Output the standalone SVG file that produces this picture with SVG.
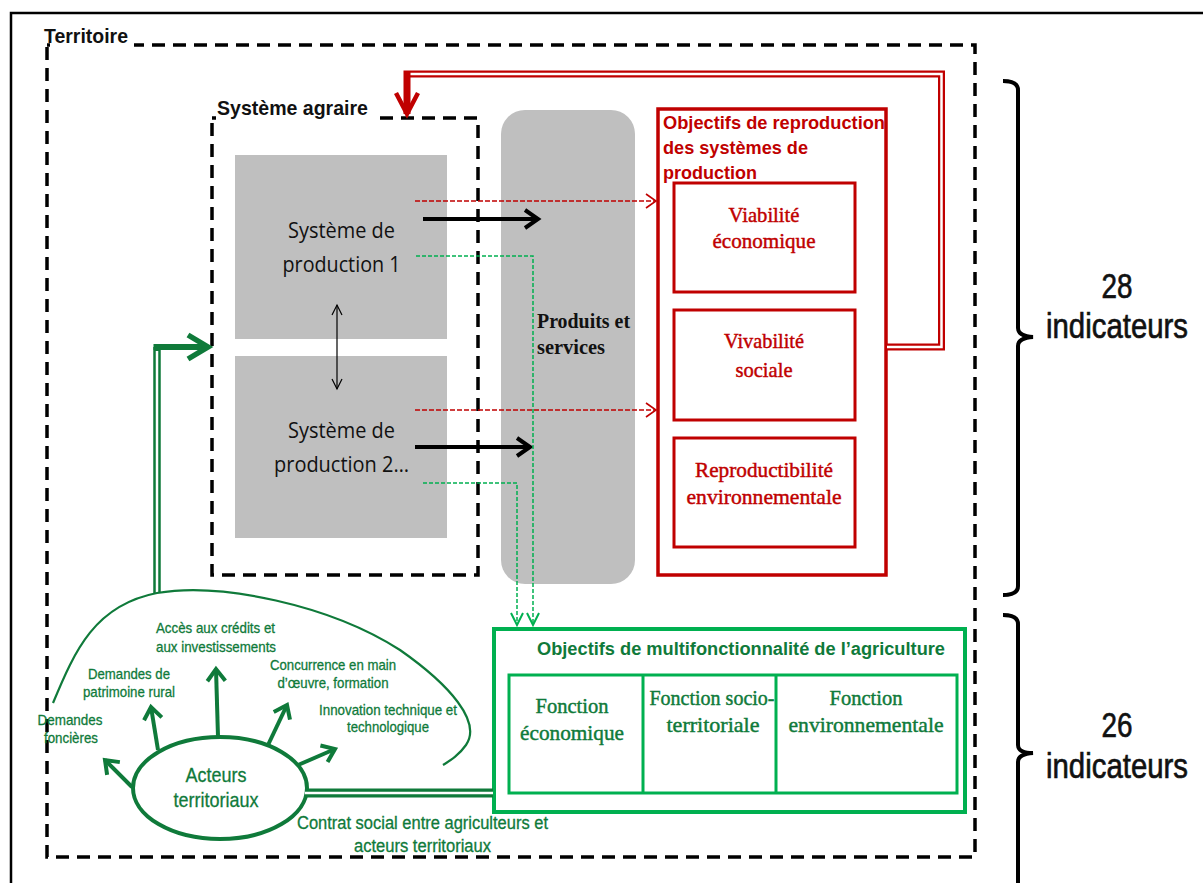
<svg xmlns="http://www.w3.org/2000/svg" width="1203" height="883" viewBox="0 0 1203 883">
<style>
.sans{font-family:"Liberation Sans",Arial,sans-serif}
.serif{font-family:"Liberation Serif","Times New Roman",serif}
.cal{font-family:"Open Sans","Noto Sans",sans-serif}
.b{font-weight:bold}
.dash{fill:none;stroke:#000;stroke-width:3.5;stroke-dasharray:13 8}
.grey{fill:#bfbfbf}
.rbox{fill:#fff;stroke:#c00000}
.gbox{fill:#fff;stroke:#00b050}
.rt{fill:#c00000}
.gt{fill:#0f7a3a}
.kt{fill:#111}
.mid{text-anchor:middle}
.thr{stroke:#c00000;stroke-width:0.45}
.thg{stroke:#0f7a3a;stroke-width:0.45}
.thg2{stroke:#0f7a3a;stroke-width:0.3}
.thk{stroke:#111;stroke-width:0.6}
</style>
<defs>
<marker id="mB" markerUnits="userSpaceOnUse" markerWidth="30" markerHeight="30" refX="13" refY="9" orient="auto" overflow="visible"><path d="M0,0 L13,9 L0,18" fill="none" stroke="#000" stroke-width="4"/></marker>
<marker id="mR" markerUnits="userSpaceOnUse" markerWidth="30" markerHeight="30" refX="10" refY="7" orient="auto" overflow="visible"><path d="M0,0 L10,7 L0,14" fill="none" stroke="#c00000" stroke-width="1.6"/></marker>
<marker id="mGd" markerUnits="userSpaceOnUse" markerWidth="30" markerHeight="30" refX="12" refY="6" orient="auto" overflow="visible"><path d="M0,0 L12,6 L0,12" fill="none" stroke="#00b050" stroke-width="2"/></marker>
<marker id="mT" markerUnits="userSpaceOnUse" markerWidth="30" markerHeight="30" refX="10" refY="5" orient="auto-start-reverse" overflow="visible"><path d="M0,0 L10,5 L0,10" fill="none" stroke="#000" stroke-width="1.2"/></marker>
<marker id="mG" markerUnits="userSpaceOnUse" markerWidth="30" markerHeight="30" refX="12" refY="9" orient="auto" overflow="visible"><path d="M0,0 L12,9 L0,18" fill="none" stroke="#0f7a3a" stroke-width="4"/></marker>
<marker id="mGB" markerUnits="userSpaceOnUse" markerWidth="40" markerHeight="40" refX="20" refY="12" orient="auto" overflow="visible"><path d="M0,0 L20,12 L0,24" fill="none" stroke="#0f7a3a" stroke-width="5.5"/></marker>
<marker id="mRB" markerUnits="userSpaceOnUse" markerWidth="40" markerHeight="40" refX="21" refY="11" orient="auto" overflow="visible"><path d="M0,0 L21,11 L0,22" fill="none" stroke="#c00000" stroke-width="4.5"/></marker>
</defs>

<rect width="1203" height="883" fill="#fff"/>
<path d="M11,883 V13 H1203" fill="none" stroke="#000" stroke-width="2.5"/>

<g id="territoire">
<rect class="dash" x="47" y="45" width="928" height="812"/>
<rect x="50" y="24" width="84" height="23" fill="#fff"/>
<text class="sans b kt" x="44" y="43" font-size="21" textLength="84" lengthAdjust="spacingAndGlyphs">Territoire</text>
</g>

<g id="systeme-agraire">
<rect class="dash" x="212" y="118" width="266" height="457"/>
<rect x="216" y="96" width="158" height="24" fill="#fff"/>
<text class="sans b kt" x="217" y="115" font-size="21" textLength="151" lengthAdjust="spacingAndGlyphs">Système agraire</text>
</g>

<g id="sp1">
<rect class="grey" x="235" y="155" width="212" height="184"/>
<text class="cal kt mid" x="341.5" y="238" font-size="22" textLength="107" lengthAdjust="spacingAndGlyphs">Système de</text>
<text class="cal kt mid" x="341.5" y="272" font-size="22" textLength="118" lengthAdjust="spacingAndGlyphs">production 1</text>
</g>

<g id="sp2">
<rect class="grey" x="235" y="356" width="212" height="182"/>
<text class="cal kt mid" x="341.5" y="438" font-size="22" textLength="107" lengthAdjust="spacingAndGlyphs">Système de</text>
<text class="cal kt mid" x="341.5" y="472" font-size="22" textLength="135" lengthAdjust="spacingAndGlyphs">production 2…</text>
</g>

<g id="produits">
<rect class="grey" x="501" y="110" width="134" height="474" rx="24"/>
<text class="serif b kt" x="537" y="328" font-size="20" textLength="93" lengthAdjust="spacingAndGlyphs">Produits et</text>
<text class="serif b kt" x="537" y="354" font-size="20" textLength="68" lengthAdjust="spacingAndGlyphs">services</text>
</g>

<g id="objectifs-reproduction">
<rect class="rbox" x="658" y="109" width="228" height="466" stroke-width="3.5"/>
<text class="sans b rt" x="663" y="129" font-size="19" textLength="222" lengthAdjust="spacingAndGlyphs">Objectifs de reproduction</text>
<text class="sans b rt" x="663" y="154" font-size="19" textLength="145" lengthAdjust="spacingAndGlyphs">des systèmes de</text>
<text class="sans b rt" x="663" y="179" font-size="19" textLength="94" lengthAdjust="spacingAndGlyphs">production</text>
</g>

<g id="viabilite">
<rect class="rbox" x="674" y="183" width="181" height="109" stroke-width="3"/>
<text class="serif rt thr mid" x="764" y="222" font-size="22" textLength="71" lengthAdjust="spacingAndGlyphs">Viabilité</text>
<text class="serif rt thr mid" x="764" y="248" font-size="22" textLength="103" lengthAdjust="spacingAndGlyphs">économique</text>
</g>

<g id="vivabilite">
<rect class="rbox" x="674" y="310" width="181" height="110" stroke-width="3"/>
<text class="serif rt thr mid" x="764" y="348" font-size="22" textLength="80" lengthAdjust="spacingAndGlyphs">Vivabilité</text>
<text class="serif rt thr mid" x="764" y="377" font-size="22" textLength="57" lengthAdjust="spacingAndGlyphs">sociale</text>
</g>

<g id="reproductibilite">
<rect class="rbox" x="674" y="438" width="181" height="109" stroke-width="3"/>
<text class="serif rt thr mid" x="764" y="477" font-size="22" textLength="138" lengthAdjust="spacingAndGlyphs">Reproductibilité</text>
<text class="serif rt thr mid" x="764" y="504" font-size="22" textLength="155" lengthAdjust="spacingAndGlyphs">environnementale</text>
</g>

<g id="objectifs-multifonctionnalite">
<rect class="gbox" x="494" y="629" width="471" height="183" stroke-width="4"/>
<text class="sans b gt" x="537" y="655" font-size="18" textLength="408" lengthAdjust="spacingAndGlyphs">Objectifs de multifonctionnalité de l’agriculture</text>
<rect class="gbox" x="509" y="675" width="448" height="118" stroke-width="3"/>
<path d="M643,675 V793 M776,675 V793" stroke="#00b050" stroke-width="3"/>
</g>

<g id="fonction-economique">
<text class="serif gt thg mid" x="572" y="713" font-size="22" textLength="73" lengthAdjust="spacingAndGlyphs">Fonction</text>
<text class="serif gt thg mid" x="572" y="740" font-size="22" textLength="104" lengthAdjust="spacingAndGlyphs">économique</text>
</g>
<g id="fonction-socio-territoriale">
<text class="serif gt thg mid" x="712" y="705" font-size="22" textLength="125" lengthAdjust="spacingAndGlyphs">Fonction socio-</text>
<text class="serif gt thg mid" x="713" y="732" font-size="22" textLength="93" lengthAdjust="spacingAndGlyphs">territoriale</text>
</g>
<g id="fonction-environnementale">
<text class="serif gt thg mid" x="866" y="705" font-size="22" textLength="73" lengthAdjust="spacingAndGlyphs">Fonction</text>
<text class="serif gt thg mid" x="866" y="732" font-size="22" textLength="155" lengthAdjust="spacingAndGlyphs">environnementale</text>
</g>

<g id="acteurs-territoriaux">
<ellipse cx="220" cy="788" rx="87" ry="51" fill="#fff" stroke="#0f7a3a" stroke-width="4"/>
<text class="sans gt thg2 mid" x="216" y="782" font-size="21" textLength="61" lengthAdjust="spacingAndGlyphs">Acteurs</text>
<text class="sans gt thg2 mid" x="216" y="807" font-size="21" textLength="85" lengthAdjust="spacingAndGlyphs">territoriaux</text>
</g>

<g id="demandes-foncieres">
<text class="sans gt thg2 mid" x="70" y="725" font-size="15" textLength="65" lengthAdjust="spacingAndGlyphs">Demandes</text>
<text class="sans gt thg2 mid" x="71" y="743" font-size="15" textLength="54" lengthAdjust="spacingAndGlyphs">foncières</text>
</g>
<g id="demandes-patrimoine">
<text class="sans gt thg2 mid" x="129" y="679" font-size="15" textLength="82" lengthAdjust="spacingAndGlyphs">Demandes de</text>
<text class="sans gt thg2 mid" x="129" y="697" font-size="15" textLength="92" lengthAdjust="spacingAndGlyphs">patrimoine rural</text>
</g>
<g id="acces-credits">
<text class="sans gt thg2 mid" x="215.5" y="633" font-size="15" textLength="119" lengthAdjust="spacingAndGlyphs">Accès aux crédits et</text>
<text class="sans gt thg2 mid" x="216" y="652" font-size="15" textLength="120" lengthAdjust="spacingAndGlyphs">aux investissements</text>
</g>
<g id="concurrence">
<text class="sans gt thg2 mid" x="333" y="670" font-size="15" textLength="126" lengthAdjust="spacingAndGlyphs">Concurrence en main</text>
<text class="sans gt thg2 mid" x="333" y="688" font-size="15" textLength="111" lengthAdjust="spacingAndGlyphs">d’œuvre, formation</text>
</g>
<g id="innovation">
<text class="sans gt thg2 mid" x="388" y="715" font-size="15" textLength="138" lengthAdjust="spacingAndGlyphs">Innovation technique et</text>
<text class="sans gt thg2 mid" x="388" y="732" font-size="15" textLength="82" lengthAdjust="spacingAndGlyphs">technologique</text>
</g>
<g id="contrat-social">
<text class="sans gt thg2 mid" x="422.5" y="829" font-size="17.5" textLength="251" lengthAdjust="spacingAndGlyphs">Contrat social entre agriculteurs et</text>
<text class="sans gt thg2 mid" x="422.5" y="852" font-size="17.5" textLength="137" lengthAdjust="spacingAndGlyphs">acteurs territoriaux</text>
</g>

<g id="indicateurs-28">
<path d="M1003,81 Q1018,81 1018,90 V328 Q1018,336 1033,337 Q1018,338 1018,346 V586 Q1018,595 1003,595" fill="none" stroke="#000" stroke-width="4"/>
<text class="sans kt thk mid" transform="translate(1117,298) scale(1,1.13)" font-size="31" textLength="31" lengthAdjust="spacingAndGlyphs">28</text>
<text class="sans kt thk mid" transform="translate(1117,338) scale(1,1.13)" font-size="31" textLength="142" lengthAdjust="spacingAndGlyphs">indicateurs</text>
</g>
<g id="indicateurs-26">
<path d="M1003,615 Q1018,615 1018,624 V745 Q1018,753 1033,753 Q1018,754 1018,762 V883" fill="none" stroke="#000" stroke-width="4"/>
<text class="sans kt thk mid" transform="translate(1117,737) scale(1,1.13)" font-size="31" textLength="31" lengthAdjust="spacingAndGlyphs">26</text>
<text class="sans kt thk mid" transform="translate(1117,778) scale(1,1.13)" font-size="31" textLength="142" lengthAdjust="spacingAndGlyphs">indicateurs</text>
</g>

<g id="connectors" fill="none">
<path d="M415,201 H656" stroke="#c00000" stroke-width="1.5" stroke-dasharray="5 2" marker-end="url(#mR)"/>
<path d="M415,410 H656" stroke="#c00000" stroke-width="1.5" stroke-dasharray="5 2" marker-end="url(#mR)"/>
<path d="M423,219 H538" stroke="#000" stroke-width="4" marker-end="url(#mB)"/>
<path d="M415,447 H530" stroke="#000" stroke-width="4" marker-end="url(#mB)"/>
<path d="M416,256 H533 V625" stroke="#00b050" stroke-width="1.5" stroke-dasharray="4 2" marker-end="url(#mGd)"/>
<path d="M423,483 H517 V625" stroke="#00b050" stroke-width="1.5" stroke-dasharray="4 2" marker-end="url(#mGd)"/>
<path d="M337,305 V389" stroke="#000" stroke-width="1.2" marker-start="url(#mT)" marker-end="url(#mT)"/>
<path d="M887,347 H941.5 V74 H407 V114" stroke="#c00000" stroke-width="7" stroke-linejoin="miter" marker-end="url(#mRB)"/>
<path d="M887,347 H941.5 V74 H410.5" stroke="#fff" stroke-width="2.5"/>
<path d="M157,593 V347" stroke="#0f7a3a" stroke-width="7.5"/>
<path d="M157,593 V351" stroke="#fff" stroke-width="2.5"/>
<path d="M153.5,347 H208" stroke="#0f7a3a" stroke-width="6" marker-end="url(#mGB)"/>
<path d="M305,793 H493" stroke="#0f7a3a" stroke-width="9"/>
<path d="M305,793 H493" stroke="#fff" stroke-width="2.6"/>
<path d="M53,703 C75,650 95,605 157,593 C220,582 330,605 400,650 C450,685 482,722 466,745 C459,755 451,760 443,765" stroke="#0f7a3a" stroke-width="2.2"/>
<path d="M132,787 L105,760" stroke="#0f7a3a" stroke-width="4" marker-end="url(#mG)"/>
<path d="M158,750 L151,707" stroke="#0f7a3a" stroke-width="4" marker-end="url(#mG)"/>
<path d="M218,737 L216,669" stroke="#0f7a3a" stroke-width="4" marker-end="url(#mG)"/>
<path d="M268,745 L287,705" stroke="#0f7a3a" stroke-width="4" marker-end="url(#mG)"/>
<path d="M298,765 L335,749" stroke="#0f7a3a" stroke-width="4" marker-end="url(#mG)"/>
</g>
</svg>
